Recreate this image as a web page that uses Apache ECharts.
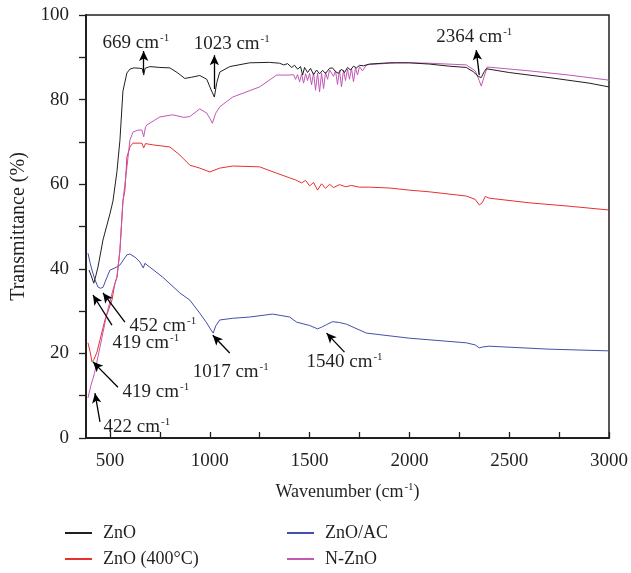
<!DOCTYPE html>
<html>
<head>
<meta charset="utf-8">
<script src="https://cdn.jsdelivr.net/npm/echarts@6/dist/echarts.min.js"></script>
<style>
  html, body { margin: 0; padding: 0; background: #fff; }
  #chart { width: 631px; height: 573px; }
</style>
</head>
<body>
<div id="chart"></div>
<script>
// wavenumber (cm-1) / transmittance (%)
var znoX = [395, 405, 419, 430, 440, 465, 500, 515, 535, 550, 565, 585, 600, 620, 650, 662, 669, 676, 700, 750, 800, 840, 875, 910, 950, 985, 1005, 1023, 1035, 1050, 1100, 1200, 1300,
  1350, 1370, 1390, 1410, 1425, 1440, 1455, 1465, 1475, 1490, 1505, 1520, 1535, 1550, 1565, 1580, 1600, 1615, 1630, 1645, 1660, 1675, 1690, 1705, 1720, 1735, 1750, 1770, 1800,
  1900, 2000, 2100, 2200, 2285, 2320, 2345, 2360, 2375, 2385, 2500, 2700, 2900, 3000]
var znoY = [39.7, 38.5, 36.6, 38.5, 40.4, 46.8, 53, 56, 63, 70.4, 82, 86.3, 87.2, 87.5, 87.4, 87.3, 85.8, 87.4, 87.8, 87.6, 87.5, 86.3, 85, 85.3, 85.7, 84.8, 82.5, 80.6, 84, 86.5, 87.8, 88.7, 88.8,
  88.6, 88.2, 88.5, 87.6, 88.1, 87.2, 87.8, 85.8, 87.6, 86.4, 87.4, 85.9, 87, 86.1, 86.9, 86.2, 87.4, 87.5, 86.6, 86.2, 87.2, 86.4, 87.6, 87, 87.9, 87.5, 88.1, 88, 88.4,
  88.7, 88.7, 88.4, 87.9, 87.6, 86.6, 85.5, 85.2, 86.6, 87.3, 86.4, 85.2, 83.9, 83]

var zno400X = [390, 400, 410, 420, 435, 450, 475, 510, 525, 535, 550, 565, 575, 585, 600, 615, 660, 669, 678, 715, 800, 850, 900, 950, 1000, 1050, 1115, 1250, 1335, 1400,
  1430, 1460, 1480, 1500, 1520, 1540, 1560, 1580, 1600, 1620, 1650, 1680, 1710, 1750,
  1800, 1900, 2000, 2100, 2285, 2330, 2350, 2365, 2380, 2400, 2600, 2800, 3000]
var zno400Y = [22.5, 20.5, 18, 18.6, 20.3, 23.2, 27.9, 32.6, 36.6, 38, 44.4, 56, 58.6, 66.4, 68.8, 69.7, 69.7, 68.6, 69.6, 69.3, 68.8, 66.9, 64.5, 63.8, 62.9, 63.8, 64.3, 64.1, 62.6, 61.5,
  61, 60.3, 60.9, 59.6, 60.4, 58.6, 60.1, 59, 60, 59.2, 59.9, 59.4, 59.7, 59.3,
  59.3, 59.1, 58.6, 58.2, 57.2, 56.4, 55.1, 55.6, 57.1, 56.7, 55.6, 54.8, 53.9]

var znoAcX = [390, 400, 410, 425, 440, 452, 465, 485, 500, 525, 550, 585, 600, 630, 650, 660, 667, 675, 685, 765, 850, 900, 950, 985, 1000, 1017, 1030, 1050, 1115, 1200, 1315, 1400,
  1435, 1500, 1540, 1560, 1585, 1615, 1650, 1685, 1785, 2000, 2285, 2330, 2350, 2365, 2400, 2700, 3000]
var znoAcY = [43.7, 41.5, 39.7, 37.4, 35.7, 35.4, 35.6, 38, 39.7, 40.2, 40.9, 43.3, 43.5, 42.6, 41.6, 41.2, 40.2, 41.3, 41.4, 38, 34.3, 32.6, 29.5, 27.2, 26, 24.8, 26.5, 27.9, 28.3, 28.6, 29.3, 28.6,
  27.4, 26.6, 25.8, 26.2, 26.8, 27.5, 27.3, 26.9, 24.8, 23.6, 22.5, 22, 21.3, 21.5, 21.7, 21, 20.6]

var nZnoX = [390, 405, 422, 450, 485, 515, 535, 550, 565, 585, 600, 615, 640, 660, 669, 678, 685, 750, 815, 870, 900, 950, 985, 1000, 1013, 1030, 1050, 1115, 1250, 1335,
  1400, 1410, 1420, 1430, 1440, 1450, 1460, 1470, 1480, 1490, 1500, 1510, 1520, 1530, 1540, 1550, 1560, 1570, 1580, 1590, 1600, 1610, 1620, 1630, 1640, 1650, 1660, 1670, 1680, 1690, 1700, 1710, 1720, 1730, 1740, 1750, 1765, 1785, 1800,
  1935, 2000, 2100, 2285, 2330, 2350, 2360, 2375, 2390, 2600, 2800, 3000]
var nZnoY = [9.5, 12.5, 15.2, 21.5, 29.5, 35, 38, 44.4, 56, 64, 70.4, 72.3, 72.8, 72.8, 71.2, 73.5, 74, 75.9, 76.4, 75.8, 76, 77.8, 76.8, 75.6, 74.4, 76.8, 78.3, 80.6, 83, 85.8,
  85.8, 85.5, 85.9, 84.8, 85.9, 84.2, 86, 83.9, 86.1, 84.5, 86.2, 83.5, 86.3, 82.2, 86.3, 81.8, 86.2, 82.6, 86.5, 84.8, 87, 86.9, 85.5, 86.8, 83.6, 86.9, 83, 87, 84.5, 87.2, 84.8, 87.4, 84.2, 87.6, 85.8, 87.8, 86.8, 88.2, 88.3,
  88.7, 88.7, 88.6, 88.2, 86.8, 84.5, 83.2, 85.5, 87.7, 86.8, 85.8, 84.6]

var seriesNames = ['ZnO', 'ZnO (400°C)', 'ZnO/AC', 'N-ZnO']
var xLabelValues = [500, 1000, 1500, 2000, 2500, 3000]
var xTickValues = [500, 750, 1000, 1250, 1500, 1750, 2000, 2250, 2500, 2750, 3000]

// peak labels: text position and arrow (tail -> head) in data units
var peakLabels = [
  { text: '669 cm', at: [630, 93.3], from: [669, 86.3], to: [669, 91.5] },
  { text: '1023 cm', at: [1110, 93.2], from: [1023, 82.5], to: [1023, 90.5] },
  { text: '2364 cm', at: [2325, 94.8], from: [2350, 85.8], to: [2335, 91.7] },
  { text: '452 cm', at: [765, 26.5], from: [575, 27.4], to: [465, 34.3] },
  { text: '419 cm', at: [680, 22.4], from: [510, 26.7], to: [415, 33.8] },
  { text: '1017 cm', at: [1105, 15.6], from: [1100, 20.1], to: [1015, 24.3] },
  { text: '1540 cm', at: [1675, 17.9], from: [1675, 20.3], to: [1585, 24.8] },
  { text: '419 cm', at: [730, 10.9], from: [540, 12], to: [415, 18] },
  { text: '422 cm', at: [635, 2.6], from: [450, 3.8], to: [425, 10.6] }
]

var chart = echarts.init(document.getElementById('chart'))
var font = 'Liberation Serif'
var ink = '#231f20'
function supRich(size) {
  return {
    a: { fontFamily: font, fontSize: size, color: ink, lineHeight: size + 2 },
    s: { fontFamily: font, fontSize: Math.round(size * 0.6), color: ink, lineHeight: size + 2, verticalAlign: 'top', padding: [0, 0, 7, 1] }
  }
}

function pairs(xs, ys) {
  return xs.map(function (x, i) { return [x, ys[i]] })
}

var colors = ['#231f20', '#e8312f', '#4450a8', '#c357b5']
var seriesData = [pairs(znoX, znoY), pairs(zno400X, zno400Y), pairs(znoAcX, znoAcY), pairs(nZnoX, nZnoY)]

var series = seriesNames.map(function (name, i) {
  return {
    name: name,
    type: 'line',
    data: seriesData[i],
    showSymbol: false,
    color: colors[i],
    lineStyle: { color: colors[i], width: 1 },
    z: i === 0 ? 4 : 3,
    animation: false
  }
})

// annotations carried on a helper series
series.push({
  name: 'notes',
  type: 'line',
  data: [],
  animation: false,
  markLine: {
    silent: true,
    symbol: ['none', 'arrow'],
    symbolSize: [7, 10],
    label: { show: false },
    lineStyle: { color: '#000', width: 1.3, type: 'solid' },
    data: peakLabels.map(function (p) {
      return [{ coord: p.from }, { coord: p.to }]
    })
  },
  markPoint: {
    silent: true,
    symbol: 'circle',
    symbolSize: 0,
    itemStyle: { color: 'transparent' },
    label: {
      show: true,
      position: 'inside',
      formatter: function (d) { return '{a|' + d.name + '}{s|-1}' },
      rich: supRich(19)
    },
    data: peakLabels.map(function (p) {
      return { name: p.text, coord: p.at }
    })
  }
})

var legendBase = {
  orient: 'vertical',
  top: 524,
  padding: 0,
  itemGap: 8,
  itemWidth: 27, itemHeight: 2,
  icon: 'rect',
  textStyle: { fontFamily: font, fontSize: 18, color: ink, padding: [0, 0, 0, 6] }
}

chart.setOption({
  backgroundColor: '#fff',
  grid: {
    left: 86, right: 21, top: 15, bottom: 135,
    show: true, borderColor: ink, borderWidth: 1.5
  },
  legend: [
    Object.assign({}, legendBase, { data: ['ZnO', 'ZnO (400°C)'], left: 65 }),
    Object.assign({}, legendBase, { data: ['ZnO/AC', 'N-ZnO'], left: 287 })
  ],
  xAxis: {
    type: 'value',
    min: 380,
    max: 3000,
    name: '{a|Wavenumber (cm}{s|-1}{a|)}',
    nameLocation: 'middle',
    nameGap: 44,
    nameTextStyle: { rich: supRich(18) },
    axisLine: { show: true, lineStyle: { color: ink, width: 2 } },
    axisTick: { show: true, inside: true, length: 6, lineStyle: { color: ink, width: 1.3 },
      customValues: xTickValues },
    axisLabel: { fontFamily: font, fontSize: 19, color: ink, margin: 14,
      customValues: xLabelValues,
      formatter: function (v) { return String(v) } },
    splitLine: { show: false }
  },
  yAxis: {
    type: 'value',
    min: 0,
    max: 100,
    interval: 10,
    name: 'Transmittance (%)',
    nameLocation: 'middle',
    nameGap: 57,
    nameTextStyle: { fontFamily: font, fontSize: 20, color: ink },
    axisLine: { show: true, lineStyle: { color: ink, width: 2 } },
    axisTick: { show: true, length: 7, lineStyle: { color: ink, width: 1.3 } },
    axisLabel: {
      fontFamily: font, fontSize: 19, color: ink, margin: 17,
      formatter: function (v) { return v % 20 === 0 ? String(v) : '' }
    },
    splitLine: { show: false }
  },
  series: series
})
</script>
</body>
</html>
